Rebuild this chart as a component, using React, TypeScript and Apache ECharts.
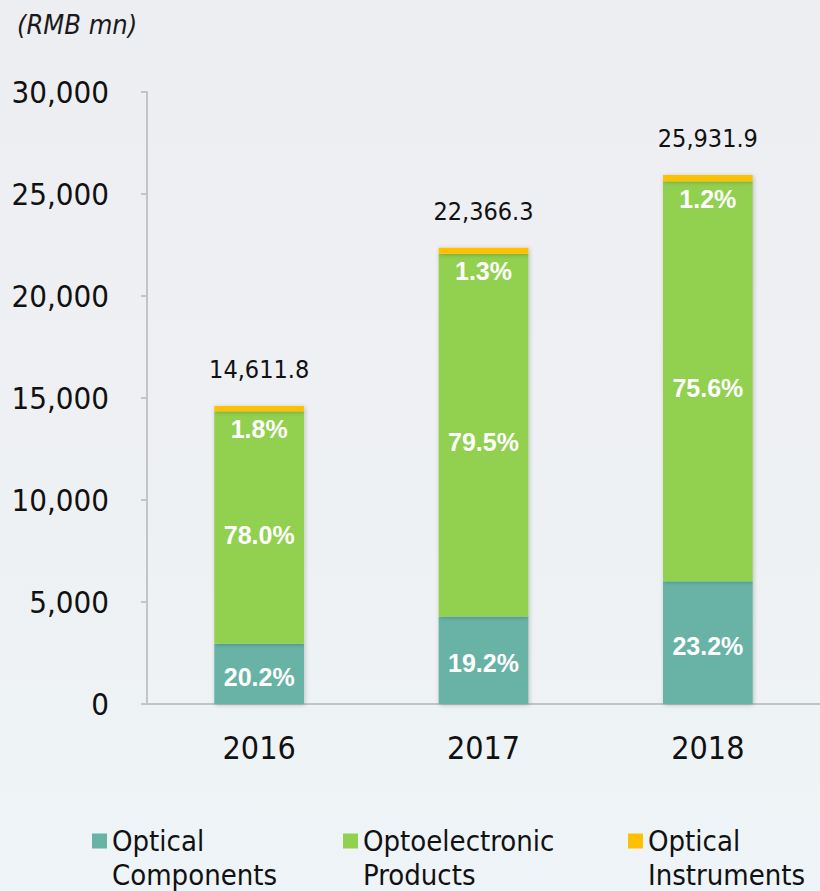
import React, { useEffect, useRef } from "react";
import * as echarts from "echarts";

const years = ["2016", "2017", "2018"];
const totals = [14611.8, 22366.3, 25931.9];
const componentsShare = [20.2, 19.2, 23.2];
const optoShare = [78.0, 79.5, 75.6];
const instrumentsShare = [1.8, 1.3, 1.2];
const yTicks = [0, 5000, 10000, 15000, 20000, 25000, 30000];

const seriesNames = ["Optical Components", "Optoelectronic Products", "Optical Instruments"];
const legendFirstLines = ["Optical", "Optoelectronic", "Optical"];
const legendSecondLines = ["Components", "Products", "Instruments"];
const colors = ["#67b3a6", "#92d050", "#ffc000"];

const COND = "'DejaVu Sans Condensed', 'DejaVu Sans', sans-serif";
const ARIAL = "'Liberation Sans', Arial, sans-serif";

export default function App() {
  const ref = useRef<HTMLDivElement>(null);
  useEffect(() => {
    if (!ref.current) return;
    const chart = echarts.init(ref.current, null, { renderer: "svg" });
    const shares = [componentsShare, optoShare, instrumentsShare];
    const pctLabel = (position: string, distance: number, offset: number[]) => ({
      show: true,
      position,
      distance,
      offset,
      color: "#ffffff",
      fontFamily: ARIAL,
      fontWeight: "bold",
      fontSize: 25,
      formatter: (p: any) => shares[p.seriesIndex][p.dataIndex].toFixed(1) + "%",
    });
    const barShadow = {
      shadowBlur: 4,
      shadowColor: "rgba(0,0,0,0.22)",
      shadowOffsetX: 1,
      shadowOffsetY: 1,
    };
    const mkSeries = (i: number, label: any) => ({
      name: seriesNames[i],
      type: "bar",
      stack: "total",
      barWidth: "40%",
      data: totals.map((t, j) => +(t * shares[i][j] / 100).toFixed(1)),
      itemStyle: { color: colors[i], ...barShadow },
      label,
    });
    const legendLefts = [92, 343, 628];
    const legends = legendLefts.map((left, i) => ({
      data: [seriesNames[i]],
      left,
      top: 824,
      padding: 0,
      orient: "horizontal",
      icon: "rect",
      itemWidth: 15,
      itemHeight: 15,
      formatter: () => legendFirstLines[i],
      textStyle: {
        fontFamily: COND,
        fontSize: 29,
        lineHeight: 34,
        color: "#111111",
      },
    }));
    const secondLines = legendLefts.map((left, i) => ({
      type: "text",
      left: left + 20,
      top: 860,
      style: {
        text: legendSecondLines[i],
        fontFamily: COND,
        fontSize: 29,
        fill: "#111111",
      },
    }));
    chart.setOption({
      animation: false,
      backgroundColor: new echarts.graphic.LinearGradient(0, 0, 0, 1, [
        { offset: 0, color: "#edeef2" },
        { offset: 0.45, color: "#eef0f3" },
        { offset: 1, color: "#eef4f7" },
      ]),
      title: {
        text: "(RMB mn)",
        left: 12,
        top: 6,
        textStyle: {
          fontFamily: COND,
          fontStyle: "italic",
          fontWeight: "normal",
          fontSize: 27,
          color: "#1a1a1a",
        },
      },
      legend: legends,
      graphic: secondLines,
      grid: { left: 147, top: 92, width: 687, height: 612, containLabel: false },
      xAxis: {
        type: "category",
        data: years,
        axisLine: { show: true, lineStyle: { color: "#c4c4c4", width: 2 } },
        axisTick: { show: false },
        axisLabel: { margin: 28, fontFamily: COND, fontSize: 32, color: "#111111" },
      },
      yAxis: {
        type: "value",
        min: yTicks[0],
        max: yTicks[yTicks.length - 1],
        interval: 5000,
        splitLine: { show: false },
        axisLine: { show: true, lineStyle: { color: "#c4c4c4", width: 2 } },
        axisTick: { show: true, length: 6, lineStyle: { color: "#c4c4c4", width: 2 } },
        axisLabel: {
          margin: 38,
          fontFamily: COND,
          fontSize: 31,
          color: "#111111",
          formatter: (v: number) => v.toLocaleString("en-US"),
        },
      },
      series: [
        mkSeries(0, pctLabel("inside", 0, [0, 3])),
        mkSeries(1, pctLabel("inside", 0, [0, 7])),
        mkSeries(2, pctLabel("bottom", 5, [0, 0])),
        {
          name: "Total",
          type: "bar",
          stack: "total",
          barWidth: "40%",
          data: totals.map(() => 0),
          itemStyle: { color: "rgba(0,0,0,0)" },
          label: {
            show: true,
            position: "top",
            distance: 24,
            fontFamily: COND,
            fontSize: 25,
            color: "#111111",
            formatter: (p: any) =>
              totals[p.dataIndex].toLocaleString("en-US", { minimumFractionDigits: 1, maximumFractionDigits: 1 }),
          },
        },
      ],
    });
    return () => chart.dispose();
  }, []);
  return (
    <div
      ref={ref}
      style={{ position: "fixed", left: 0, top: 0, width: 820, height: 891 }}
    />
  );
}
